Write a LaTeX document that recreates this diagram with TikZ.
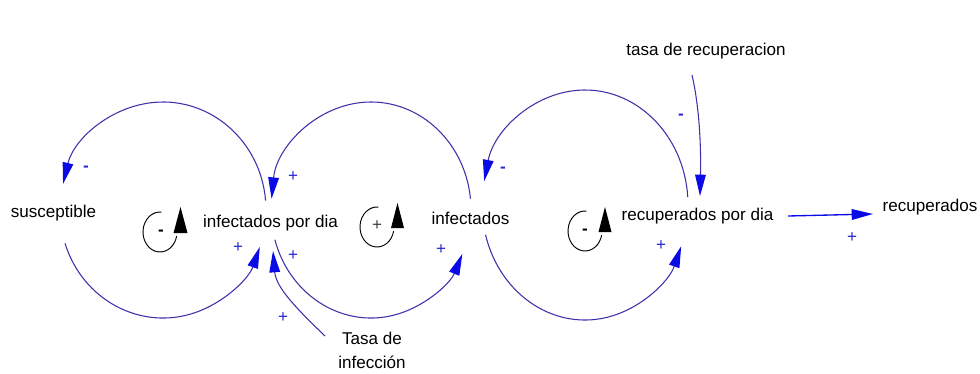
\documentclass[tikz,border=0pt]{standalone}
\usepackage{fontspec}
\setmainfont{Liberation Sans}
\usetikzlibrary{arrows.meta,calc}
\definecolor{loopcol}{RGB}{60,50,170}
\definecolor{tipcol}{RGB}{10,10,230}
\definecolor{signcol}{RGB}{40,40,210}
\tikzset{
  lbl/.style={inner sep=0pt, font=\fontsize{12.8}{18}\selectfont, text=black},
  sgn/.style={inner sep=0pt, font=\fontsize{12.8}{15}\selectfont, text=signcol},
  msgn/.style={inner sep=0pt, font=\fontsize{12.8}{15}\selectfont\bfseries, text=black},
  link/.style={draw=loopcol, line width=0.8pt,
    -{Triangle[length=16pt,width=8pt,color=tipcol]}},
  marker/.style={draw=black, line width=0.7pt},
  markertip/.style={fill=black}
}
\begin{document}
\begin{tikzpicture}[x=0.75pt,y=-0.75pt]
\useasboundingbox (0,0) rectangle (980,374);
\fill[white] (0,0) rectangle (980,374);

% nodes
\node[lbl] (susc) at (53.5,213) {susceptible};
\node[lbl] (ipd) at (270.5,223) {infectados por dia};
\node[lbl] (inf) at (470.5,218) {infectados};
\node[lbl] (recpd) at (697.5,216) {recuperados por dia};
\node[lbl] (rec) at (930,207) {recuperados};
\node[lbl] (tasarec) at (706,51) {tasa de recuperacion};
\node[lbl, align=center] (tasainf) at (372,350) {Tasa de\\infección};

% loop centres
\coordinate (c1) at (163,210);
\coordinate (c2) at (371,210);
\coordinate (c3) at (585,205);

% loop 1
\draw[link] ($(c1)+(-5:103 and 108)$) arc[start angle=-5, end angle=-166, x radius=103, y radius=108];
\draw[link] ($(c1)+(162:103 and 108)$) arc[start angle=162, end angle=20, x radius=103, y radius=108];
% loop 2
\draw[link] ($(c2)+(-6:100 and 108)$) arc[start angle=-6, end angle=-174, x radius=100, y radius=108];
\draw[link] ($(c2)+(164:100 and 108)$) arc[start angle=164, end angle=24, x radius=100, y radius=108];
% loop 3
\draw[link] ($(c3)+(-4:103 and 115)$) arc[start angle=-4, end angle=-168, x radius=103, y radius=115];
\draw[link] ($(c3)+(165:103 and 115)$) arc[start angle=165, end angle=21, x radius=103, y radius=115];

% tasa de infeccion link
\coordinate (tiStart) at (325,336);
\coordinate (tiEnd) at (273,251);
\draw[link] (tiStart) .. controls (298,310) and (276,288) .. (tiEnd);

% tasa de recuperacion link
\coordinate (trStart) at (692,75);
\coordinate (trEnd) at (700,196);
\draw[link] (trStart) .. controls (700,110) and (701,150) .. (trEnd);

% recuperados por dia -> recuperados
\coordinate (rpdOut) at (788,216);
\coordinate (recIn) at (873,214);
\draw[draw=tipcol, line width=1pt, -{Triangle[length=16pt,width=8pt,color=tipcol]}]
  (rpdOut) -- (recIn);

% polarity signs
\node[sgn] at (86,169) {\textbf{-}};
\node[sgn] at (293,177) {+};
\node[sgn] at (238,248) {+};
\node[sgn] at (293,256) {+};
\node[sgn] at (283,318) {+};
\node[sgn] at (441,250) {+};
\node[sgn] at (503,170) {\textbf{-}};
\node[sgn] at (681,117) {\textbf{-}};
\node[sgn] at (661,246) {+};
\node[sgn] at (852,238) {+};

% loop markers
\coordinate (m1) at (160,232);
\coordinate (m2) at (377,227);
\coordinate (m3) at (585,231);
\draw[marker] ($(m1)+(-85:17 and 20)$) arc[start angle=-85, end angle=-348, x radius=17, y radius=20];
\fill[markertip] (173.5,233) -- (180.5,207) -- (187.5,233) -- cycle;
\node[msgn] at (161,233) {-};

\draw[marker] ($(m2)+(-85:17 and 20)$) arc[start angle=-85, end angle=-348, x radius=17, y radius=20];
\fill[markertip] (391,228) -- (397.5,203) -- (404,228) -- cycle;
\node[sgn, text=black!75] at (377,226) {+};

\draw[marker] ($(m3)+(-85:17 and 20)$) arc[start angle=-85, end angle=-348, x radius=17, y radius=20];
\fill[markertip] (598.5,232) -- (605,207) -- (611.5,232) -- cycle;
\node[msgn] at (585,232) {-};
\end{tikzpicture}
\end{document}
